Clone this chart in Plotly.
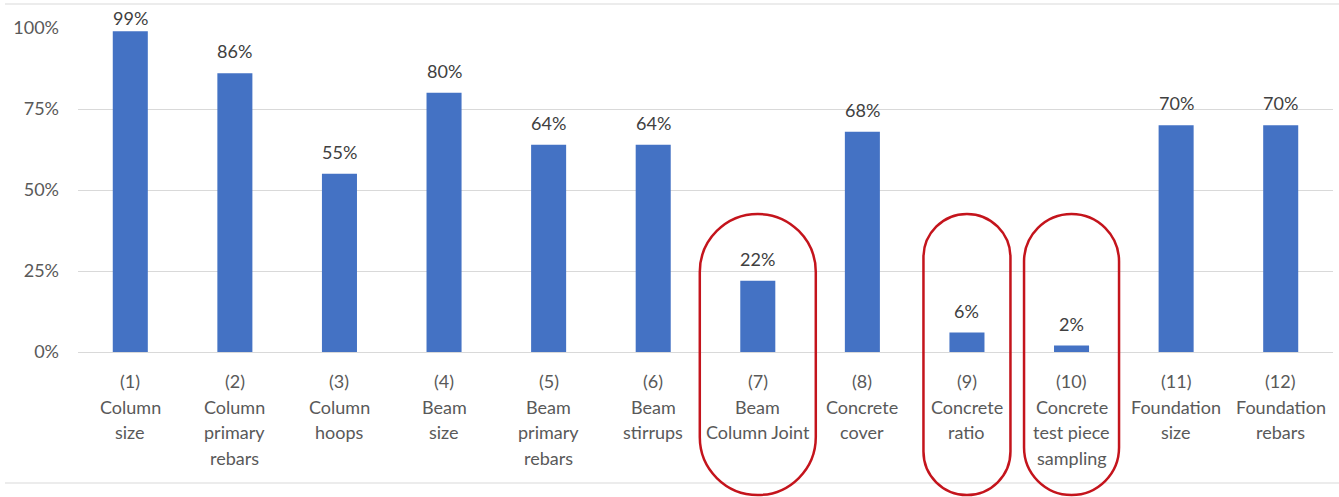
import plotly.graph_objects as go

# ---------------- data ----------------
categories = [
    "(1)\nColumn\nsize",
    "(2)\nColumn\nprimary\nrebars",
    "(3)\nColumn\nhoops",
    "(4)\nBeam\nsize",
    "(5)\nBeam\nprimary\nrebars",
    "(6)\nBeam\nstirrups",
    "(7)\nBeam\nColumn Joint",
    "(8)\nConcrete\ncover",
    "(9)\nConcrete\nratio",
    "(10)\nConcrete\ntest piece\nsampling",
    "(11)\nFoundation\nsize",
    "(12)\nFoundation\nrebars",
]
values = [0.99, 0.86, 0.55, 0.80, 0.64, 0.64, 0.22, 0.68, 0.06, 0.02, 0.70, 0.70]
y_tick_vals = [0, 0.25, 0.5, 0.75, 1.0]
y_tick_text = ["0%", "25%", "50%", "75%", "100%"]
highlighted = [6, 8, 9]  # zero-based category indices circled in red

# ---------------- styling / layout ----------------
W, H = 1339, 497
ML, MR, MT, MB = 78, 6, 28, 145
PW, PH = W - ML - MR, H - MT - MB
BAR_COLOR = "#4472C4"
GRID = "#d9d9d9"
FONT = "Lato"
TICK_COLOR = "#595959"
LABEL_COLOR = "#404040"
FS = 18
RED = "#C4141C"
highlight_width_px = {6: 116, 8: 87, 9: 95}
highlight_top_px, highlight_bottom_px = 214, 495
n = len(categories)
xs = list(range(n))

x_per_px = n / PW
paper_per_px = 1.0 / PH
plot_bottom_px = MT + PH


def py(px_y):
    return (plot_bottom_px - px_y) * paper_per_px


def px_x(px):
    return (px - ML) / PW


fig = go.Figure()
fig.add_trace(go.Bar(
    x=xs, y=values, width=0.335,
    marker=dict(color=BAR_COLOR, line=dict(width=0)),
    hoverinfo="skip",
))

annotations = []
# data labels (pushed down when close to the top of the chart)
for i, v in enumerate(values):
    headroom = v * PH - (PH - 0)  # negative distance from bar top to 100% line
    headroom_px = PH - v * PH
    shift = min(9, max(0, headroom_px - 3))
    annotations.append(dict(
        x=i, y=v, xref="x", yref="y", text=f"{round(v * 100)}%",
        showarrow=False, yanchor="bottom", yshift=shift,
        font=dict(family=FONT, size=FS, color=LABEL_COLOR),
    ))
# category labels (multi-line)
for i, cat in enumerate(categories):
    for j, line in enumerate(cat.split("\n")):
        annotations.append(dict(
            x=i, y=0, xref="x", yref="y", text=line,
            showarrow=False, yanchor="middle", yshift=-29 - 25.5 * j,
            font=dict(family=FONT, size=FS, color=TICK_COLOR),
        ))

shapes = []
# chart border lines (top and bottom)
for yy in (4, 483):
    shapes.append(dict(type="line", xref="paper", yref="paper",
                       x0=px_x(5), x1=px_x(W), y0=py(yy), y1=py(yy),
                       line=dict(color=GRID, width=1), layer="below"))

# red rounded outlines
k = 0.5523
for idx in highlighted:
    hw_px = highlight_width_px[idx] / 2
    r_px = hw_px
    rx = r_px * x_per_px
    ry = r_px * paper_per_px
    Lx = idx - hw_px * x_per_px
    Rx = idx + hw_px * x_per_px
    Yt = py(highlight_top_px)
    Yb = py(highlight_bottom_px)
    path = (
        f"M {Lx},{Yt - ry} "
        f"C {Lx},{Yt - ry + k * ry} {Lx + rx - k * rx},{Yt} {Lx + rx},{Yt} "
        f"L {Rx - rx},{Yt} "
        f"C {Rx - rx + k * rx},{Yt} {Rx},{Yt - ry + k * ry} {Rx},{Yt - ry} "
        f"L {Rx},{Yb + ry} "
        f"C {Rx},{Yb + ry - k * ry} {Rx - rx + k * rx},{Yb} {Rx - rx},{Yb} "
        f"L {Lx + rx},{Yb} "
        f"C {Lx + rx - k * rx},{Yb} {Lx},{Yb + ry - k * ry} {Lx},{Yb + ry} Z"
    )
    shapes.append(dict(type="path", xref="x", yref="paper", path=path,
                       line=dict(color=RED, width=2.5), layer="above"))

fig.update_layout(
    width=W, height=H,
    margin=dict(l=ML, r=MR, t=MT, b=MB, pad=0),
    paper_bgcolor="white", plot_bgcolor="white",
    showlegend=False,
    annotations=annotations,
    shapes=shapes,
    font=dict(family=FONT, size=FS, color=TICK_COLOR),
    xaxis=dict(range=[-0.5, n - 0.5], tickvals=xs, showticklabels=False,
               showgrid=False, zeroline=False, showline=False, fixedrange=True),
    yaxis=dict(range=[0, 1], tickvals=y_tick_vals, ticktext=y_tick_text,
               showgrid=True, gridcolor=GRID, gridwidth=1,
               zeroline=True, zerolinecolor=GRID, zerolinewidth=1,
               showline=False, ticks="", ticklabelstandoff=18,
               tickfont=dict(family=FONT, size=FS, color=TICK_COLOR),
               fixedrange=True),
)

fig.write_html("out.html")
